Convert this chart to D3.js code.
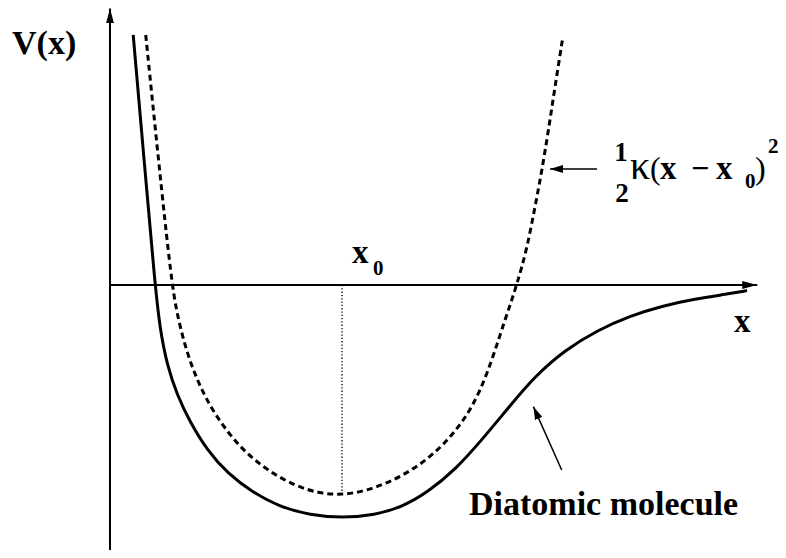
<!DOCTYPE html>
<html>
<head>
<meta charset="utf-8">
<script src="https://cdn.jsdelivr.net/npm/d3@7"></script>
<style>
  html, body { margin: 0; padding: 0; background: #fff; }
  svg { display: block; }
  text { font-family: "Liberation Serif", "Times New Roman", serif; fill: #000; }
</style>
</head>
<body>
<svg id="chart" width="786" height="558"></svg>
<script>
// Interatomic separation r (equilibrium x0 = 1) and potential V (well depth = 1)
const morseR = [0.100, 0.147, 0.194, 0.216, 0.246, 0.289, 0.345, 0.418, 0.509, 0.612, 0.733, 0.862, 1.000, 1.142, 1.259, 1.371, 1.487, 1.603, 1.716, 1.832, 1.961, 2.103, 2.241, 2.379, 2.522, 2.659, 2.746];
const morseV = [1.073, 0.536, 0.000, -0.193, -0.343, -0.472, -0.588, -0.708, -0.811, -0.888, -0.953, -0.987, -1.000, -0.987, -0.953, -0.888, -0.794, -0.665, -0.528, -0.391, -0.279, -0.193, -0.133, -0.090, -0.060, -0.039, -0.024];

// Harmonic approximation around x0
const harmR = [0.154, 0.209, 0.266, 0.293, 0.328, 0.375, 0.435, 0.509, 0.595, 0.690, 0.797, 0.905, 1.000, 1.103, 1.207, 1.310, 1.405, 1.487, 1.560, 1.625, 1.681, 1.720, 1.753, 1.796, 1.832, 1.862, 1.890, 1.918, 1.950];
const harmV = [1.073, 0.536, 0.000, -0.142, -0.279, -0.408, -0.528, -0.635, -0.730, -0.802, -0.862, -0.895, -0.901, -0.884, -0.845, -0.790, -0.717, -0.631, -0.528, -0.386, -0.215, -0.099, 0.000, 0.150, 0.335, 0.494, 0.665, 0.850, 1.052];

const x0 = 1.0;
const harmMin = -0.901;
const xAxisEnd = 2.79;
const yAxisTop = 1.187;
const yAxisBottom = -1.137;

const svg = d3.select("#chart");

const x = d3.scaleLinear().domain([0, 2.8]).range([110, 110 + 2.8 * 232]);
const y = d3.scaleLinear().domain([-1.2, 1.2]).range([285 + 1.2 * 233, 285 - 1.2 * 233]);

// arrowhead marker
const defs = svg.append("defs");
function marker(id, len, half) {
  defs.append("marker")
    .attr("id", id)
    .attr("viewBox", `0 ${-half} ${len} ${2 * half}`)
    .attr("refX", len).attr("refY", 0)
    .attr("markerWidth", len).attr("markerHeight", 2 * half)
    .attr("markerUnits", "userSpaceOnUse")
    .attr("orient", "auto")
    .append("path")
    .attr("d", `M0,${-half}L${len},0L0,${half}Z`)
    .attr("fill", "#000");
}
marker("axisHead", 15, 4);
marker("noteHead", 13, 4);

// axes
svg.append("line")
  .attr("x1", x(0)).attr("y1", y(yAxisBottom))
  .attr("x2", x(0)).attr("y2", y(yAxisTop))
  .attr("stroke", "#000").attr("stroke-width", 2)
  .attr("marker-end", "url(#axisHead)");
svg.append("line")
  .attr("x1", x(0)).attr("y1", y(0))
  .attr("x2", x(xAxisEnd)).attr("y2", y(0))
  .attr("stroke", "#000").attr("stroke-width", 2)
  .attr("marker-end", "url(#axisHead)");

// equilibrium marker
svg.append("line")
  .attr("x1", x(x0)).attr("y1", y(0))
  .attr("x2", x(x0)).attr("y2", y(harmMin))
  .attr("stroke", "#000").attr("stroke-width", 1.3)
  .attr("stroke-dasharray", "1.3,2");

const line = d3.line()
  .x(d => x(d[0])).y(d => y(d[1]))
  .curve(d3.curveBasis);

svg.append("path")
  .datum(d3.zip(harmR, harmV))
  .attr("d", line)
  .attr("fill", "none").attr("stroke", "#000")
  .attr("stroke-width", 3).attr("stroke-dasharray", "6,4");

svg.append("path")
  .datum(d3.zip(morseR, morseV))
  .attr("d", line)
  .attr("fill", "none").attr("stroke", "#000")
  .attr("stroke-width", 3);

// annotation arrows
svg.append("line")
  .attr("x1", x(2.099)).attr("y1", y(0.498))
  .attr("x2", x(1.897)).attr("y2", y(0.498))
  .attr("stroke", "#000").attr("stroke-width", 1.5)
  .attr("marker-end", "url(#noteHead)");
svg.append("line")
  .attr("x1", x(1.947)).attr("y1", y(-0.794))
  .attr("x2", x(1.825)).attr("y2", y(-0.522))
  .attr("stroke", "#000").attr("stroke-width", 1.5)
  .attr("marker-end", "url(#noteHead)");

// labels
function label(t, px, py, size, weight, anchor) {
  return svg.append("text")
    .attr("x", px).attr("y", py)
    .attr("font-size", size)
    .attr("font-weight", weight || "bold")
    .attr("text-anchor", anchor || "start")
    .text(t);
}

label("V(x)", 12, 54, 34);
label("x", 734, 332, 33);
label("x", 352, 263, 33);
label("0", 373, 275, 21);
label("Diatomic molecule", 469, 515, 34);

// 1/2 κ (x − x0)^2
label("1", 621, 161, 27, "bold", "middle");
label("2", 622, 202, 27, "bold", "middle");
label("κ", 630, 179, 40, "normal");
label("(", 650, 179, 32, "normal");
label("x", 660, 179, 33);
label("−", 691, 179, 32, "bold");
label("x", 716, 179, 33);
label("0", 745, 188, 21);
label(")", 755, 179, 32, "normal");
label("2", 768, 153, 21);
</script>
</body>
</html>
